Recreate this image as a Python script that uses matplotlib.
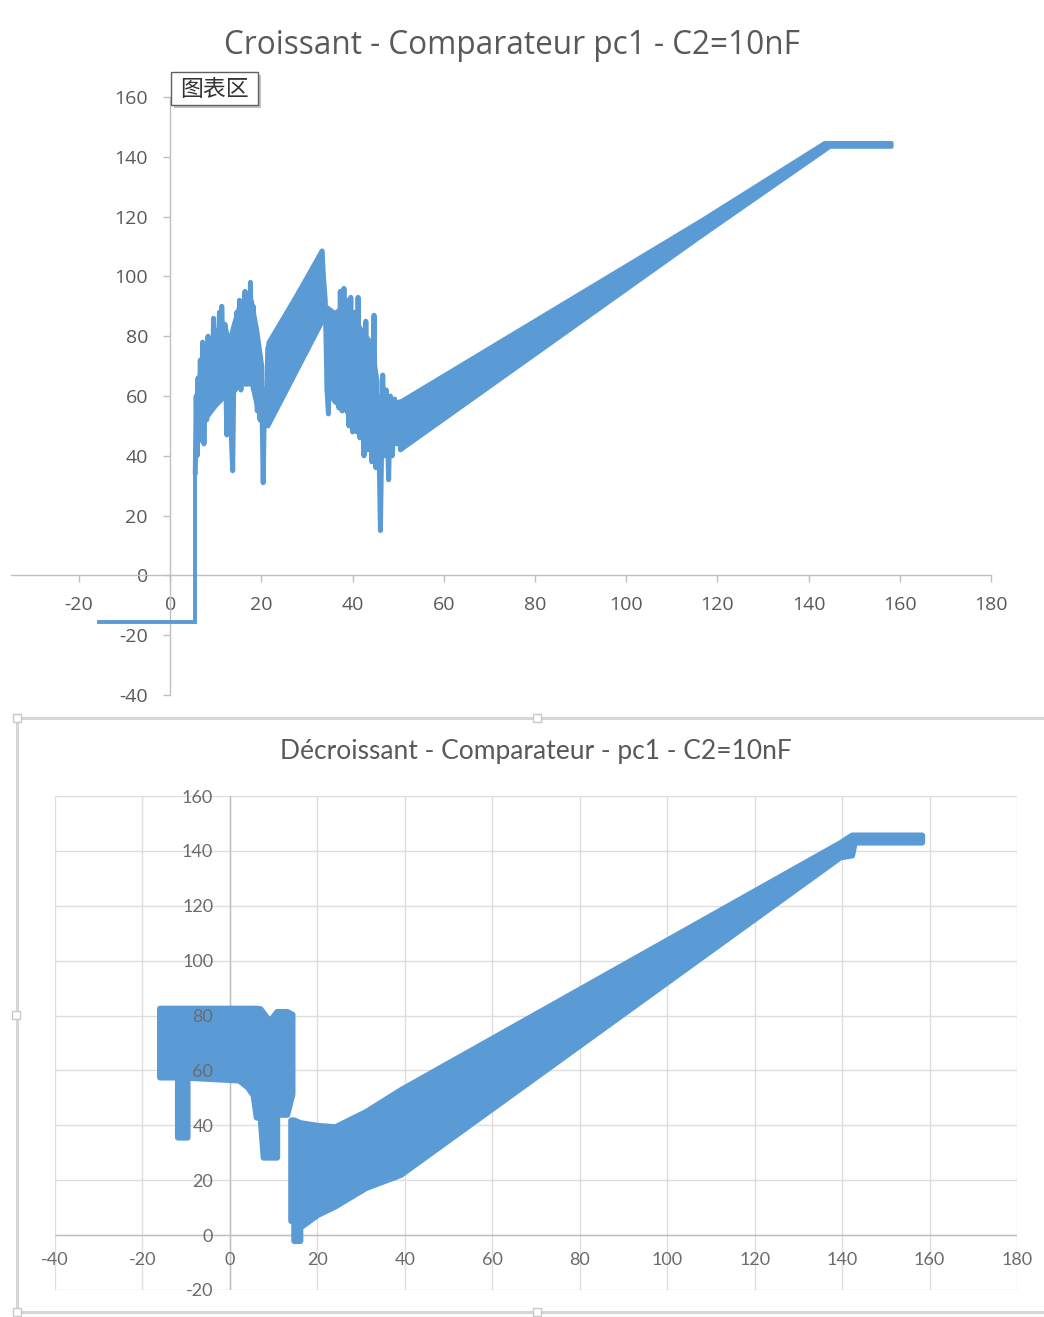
import matplotlib
matplotlib.use("Agg")
import matplotlib.pyplot as plt
from matplotlib.patches import Rectangle

plt.rcParams["axes.unicode_minus"] = False

W, H = 1044, 1317
BLUE = "#5B9BD5"
TXT = "#595959"

# ---- Croissant - comparateur pc1 ----
step_x = [-15.6, 5.5, 5.5]
step_y = [-15.5, -15.5, 34.0]

osc_x = [5.5, 5.7, 5.9, 6.1, 6.3, 6.6, 6.9, 7.1, 7.4, 7.7,
         8.0, 8.3, 8.6, 8.9, 9.2, 9.5, 9.8, 10.1, 10.4, 10.8,
         11.1, 11.3, 11.7, 12.0, 12.4, 12.7, 13.1, 13.7, 14.0, 14.3,
         14.6, 14.9, 15.2, 15.5, 15.8, 16.1, 16.4, 16.7, 17.0, 17.3,
         17.6, 17.9, 18.2, 18.5, 18.8, 19.1, 19.4, 19.7, 20.0, 20.4,
         20.7, 21.0, 21.4,
         33.3, 33.6, 34.0, 34.4, 34.7, 35.0, 35.4, 35.8, 36.2, 36.6,
         37.0, 37.3, 37.7, 38.1, 38.4, 38.8, 39.2, 39.6, 40.0, 40.5,
         40.9, 41.2, 41.6, 42.1, 42.5, 42.9, 43.3, 43.8, 44.2, 44.7,
         45.1, 45.6, 46.1, 46.6, 47.0, 47.4, 47.9, 48.3, 48.7, 49.2,
         49.7, 50.2, 50.5]
osc_y = [34, 60, 40, 66, 45, 72, 50, 78, 44, 76,
         52, 80, 55, 78, 58, 86, 60, 82, 62, 88,
         64, 90, 62, 84, 47, 79, 58, 35, 72, 62,
         88, 64, 92, 62, 90, 66, 95, 64, 92, 68,
         98, 65, 90, 62, 80, 55, 72, 52, 68, 31,
         62, 50, 76,
         108.5, 100, 92, 62, 54, 86, 60, 85, 62, 84,
         56, 95, 55, 96, 58, 92, 50, 93, 48, 88,
         48, 93, 46, 80, 40, 85, 42, 75, 38, 87,
         36, 60, 15, 67, 40, 62, 32, 60, 40, 59,
         44, 58, 42]

# dense body of the oscillations
core1_x = [5.8, 8.0, 10.0, 12.0, 12.8, 13.8, 15.0, 17.8, 19.0, 20.1]
core1_lo = [46, 53, 57, 60, 62, 64, 64, 64, 56, 52]
core1_hi = [64, 76, 82, 84, 78, 84, 90, 92, 82, 70]
core2_x = [34.2, 36.0, 38.0, 40.0, 42.0, 44.0, 45.4]
core2_lo = [62, 58, 56, 52, 48, 44, 44]
core2_hi = [90, 88, 90, 87, 82, 78, 65]

ramp_x = [21.4, 33.3]
ramp_lo = [50.0, 85.0]
ramp_hi = [78.0, 108.5]

lin_x = [50.5, 116.4, 143.4, 144.6, 158.1]
lin_lo = [42.1, 113.6, 142.2, 143.5, 143.5]
lin_hi = [58.4, 118.9, 144.8, 144.8, 144.8]

# ---- Decroissant - comparateur pc1 ----
blob_x = [-16.1, -12.0, -12.0, -9.8, -9.8, 2.0, 4.0, 5.3, 6.0, 6.9,
          7.6, 9.0, 10.0, 10.7, 10.7, 13.0, 14.2]
blob_lo = [57.6, 57.6, 35.7, 35.7, 57.5, 56.5, 54.0, 51.0, 43.0, 43.0,
           28.4, 28.4, 28.4, 28.4, 44.0, 44.0, 51.5]
blob_hi = [82.7, 82.7, 82.7, 82.7, 82.7, 82.7, 82.7, 82.7, 82.7, 82.5,
           81.0, 78.0, 80.0, 81.5, 81.5, 81.5, 80.5]

band_x = [13.9, 14.6, 14.6, 16.0, 16.0, 20.0, 24.0, 31.0, 39.0, 139.5,
          142.2, 142.8, 158.2]
band_lo = [5.3, 5.3, -2.0, -2.0, 2.9, 7.5, 10.6, 17.3, 22.1, 137.8,
           138.5, 143.2, 143.2]
band_hi = [42.0, 42.0, 42.0, 41.0, 41.0, 40.0, 39.5, 45.0, 53.0, 143.0,
           145.8, 145.8, 145.8]

xticks_top = list(range(-20, 181, 20))
yticks_top = list(range(-40, 161, 20))
xticks_bot = list(range(-40, 181, 20))
yticks_bot = list(range(-20, 161, 20))


def fx(px):
    return px / W


def fy(py):
    return 1 - py / H


fig = plt.figure(figsize=(W / 100, H / 100), dpi=100)
fig.patch.set_facecolor("white")

# top chart
ax1 = fig.add_axes([fx(10.6), fy(695), (991 - 10.6) / W, (695 - 97) / H])
ax1.set_xlim(-35, 180)
ax1.set_ylim(-40, 160)
ax1.patch.set_visible(False)
for s in ("top", "right"):
    ax1.spines[s].set_visible(False)
ax1.spines["left"].set_position(("data", 0))
ax1.spines["bottom"].set_position(("data", 0))
for s in ("left", "bottom"):
    ax1.spines[s].set_color("#bfbfbf")
    ax1.spines[s].set_linewidth(1)
ax1.set_xticks(xticks_top)
ax1.set_yticks(yticks_top)
ax1.tick_params(direction="out", length=5, width=1, color="#bfbfbf",
                labelcolor=TXT, labelsize=14)
ax1.tick_params(axis="y", pad=11)
ax1.tick_params(axis="x", pad=10)
for lab in ax1.get_xticklabels() + ax1.get_yticklabels():
    lab.set_family("Open Sans")

for cx, lo, hi in [(core1_x, core1_lo, core1_hi), (core2_x, core2_lo, core2_hi),
                   (ramp_x, ramp_lo, ramp_hi), (lin_x, lin_lo, lin_hi)]:
    ax1.fill_between(cx, lo, hi, color=BLUE, edgecolor=BLUE,
                     linewidth=2.8, joinstyle="round", zorder=3)
ax1.plot(step_x, step_y, color=BLUE, lw=2.8, solid_joinstyle="miter", zorder=3)
ax1.plot(osc_x, osc_y, color=BLUE, lw=3.6, solid_joinstyle="round",
         solid_capstyle="round", zorder=3)

fig.text(fx(512), fy(45), "Croissant - Comparateur pc1 - C2=10nF",
         ha="center", va="center", fontsize=22.7, color=TXT, family="Open Sans")

# "chart area" tooltip
fig.add_artist(Rectangle((fx(174), fy(108)), 87 / W, 33 / H,
                         transform=fig.transFigure, facecolor="#9a9a9a",
                         edgecolor="none", alpha=0.6))
fig.add_artist(Rectangle((fx(171), fy(105)), 87 / W, 33 / H,
                         transform=fig.transFigure, facecolor="white",
                         edgecolor="#606060", linewidth=1))
fig.text(fx(214.5), fy(89), "图表区", ha="center", va="center",
         fontsize=16.5, color="#333333", family=["Noto Sans CJK SC", "DejaVu Sans"])

# bottom chart frame with selection handles
fig.add_artist(Rectangle((fx(17), fy(1312)), (1060 - 17) / W, (1312 - 718) / H,
                         transform=fig.transFigure, fill=False,
                         edgecolor="#d6d6d6", linewidth=2.2))
for hx, hy in [(17, 718), (537, 718), (16, 1015), (17, 1312), (537, 1312)]:
    fig.add_artist(Rectangle((fx(hx - 4), fy(hy + 4)), 8 / W, 8 / H,
                             transform=fig.transFigure, facecolor="white",
                             edgecolor="#c8c8c8", linewidth=1))

ax2 = fig.add_axes([fx(55), fy(1290), (1017 - 55) / W, (1290 - 796) / H])
ax2.set_xlim(-40, 180)
ax2.set_ylim(-20, 160)
ax2.set_xticks(xticks_bot)
ax2.set_yticks(yticks_bot)
ax2.grid(True, color="#dedede", linewidth=1)
ax2.set_axisbelow(True)
for s in ax2.spines.values():
    s.set_visible(False)
ax2.tick_params(length=0, labelbottom=False, labelleft=False)
ax2.axhline(0, color="#bfbfbf", lw=1, zorder=1)
ax2.axvline(0, color="#bfbfbf", lw=1, zorder=1)

ax2.fill_between(blob_x, blob_lo, blob_hi, color=BLUE, edgecolor=BLUE,
                 linewidth=4.3, joinstyle="round", zorder=3)
ax2.fill_between(band_x, band_lo, band_hi, color=BLUE, edgecolor=BLUE,
                 linewidth=4.3, joinstyle="round", zorder=3)

# tick labels sit on top of the data
ax2b = fig.add_axes(ax2.get_position(), sharex=ax2, sharey=ax2)
ax2b.patch.set_visible(False)
for s in ax2b.spines.values():
    s.set_visible(False)
ax2b.spines["left"].set_position(("data", 0))
ax2b.spines["bottom"].set_position(("data", 0))
ax2b.tick_params(length=0, labelcolor="#6b6b6b", labelsize=13)
ax2b.tick_params(axis="y", pad=12)
ax2b.tick_params(axis="x", pad=12)
for lab in ax2b.get_xticklabels() + ax2b.get_yticklabels():
    lab.set_family("Lato")

fig.text(fx(536), fy(752), "Décroissant - Comparateur - pc1 - C2=10nF",
         ha="center", va="center", fontsize=19, color=TXT, family="Lato")

fig.savefig("out.png", dpi=100)
